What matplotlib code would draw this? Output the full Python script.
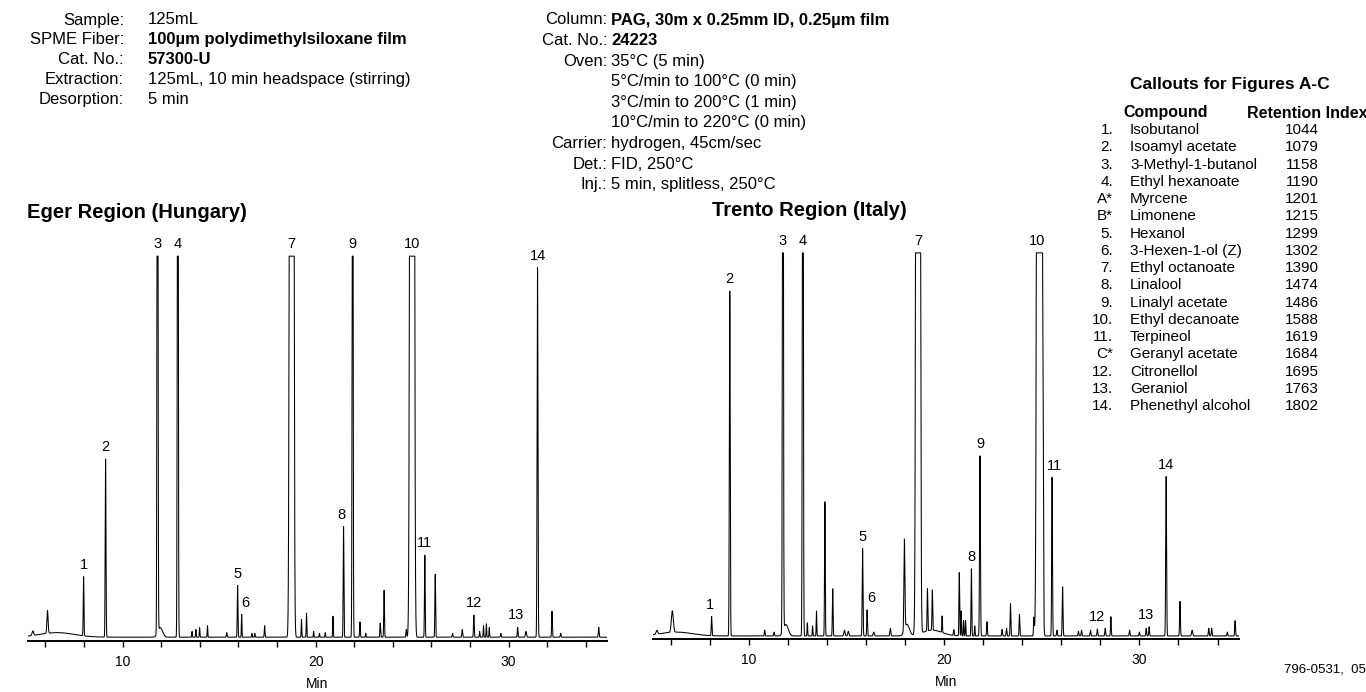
import numpy as np
import matplotlib.pyplot as plt

plt.rcParams['font.family'] = ['Liberation Sans', 'DejaVu Sans']

# Eger Region (Hungary): retention time (min), height (% full scale), peak width (min)
# heights above 100 are off-scale peaks (drawn clipped)
eger_rt = [5.35, 6.11, 7.98, 9.12, 11.81, 11.95, 12.86, 13.6, 13.8, 13.99, 14.4, 15.4,
           15.96, 16.17, 16.7, 16.85, 17.36, 18.76, 19.27, 19.53, 19.9, 20.2, 20.5,
           20.9, 21.45, 21.92, 22.3, 22.6, 23.35, 23.55, 24.7, 25.0, 25.66, 26.2,
           27.1, 27.6, 28.2, 28.5, 28.7, 28.85, 29.0, 29.6, 30.47, 30.9, 31.5, 32.25,
           32.7, 34.67, 6.6]
eger_height = [1.2, 6, 15.5, 46.7, 250, 2.5, 250, 1.5, 2, 2.5, 3, 1.2,
               13.6, 6, 1, 1, 3, 2000, 4.7, 6.3, 1.5, 1, 1.2,
               5.5, 29, 200, 4, 1, 3.7, 12.3, 2, 2000, 21.5, 16.5,
               1, 2, 5.8, 1.5, 3, 3.5, 2.5, 1, 2.6, 1.5, 97, 6.8,
               1, 2.6, 1.2]
eger_width = [0.04, 0.03, 0.018, 0.02, 0.022, 0.12, 0.022, 0.015, 0.015, 0.015, 0.015, 0.02,
              0.018, 0.015, 0.015, 0.015, 0.018, 0.055, 0.015, 0.015, 0.015, 0.015, 0.015,
              0.015, 0.018, 0.022, 0.018, 0.015, 0.018, 0.018, 0.02, 0.058, 0.018, 0.018,
              0.02, 0.02, 0.018, 0.015, 0.015, 0.015, 0.015, 0.02, 0.018, 0.03, 0.022, 0.018,
              0.02, 0.02, 0.9]
eger_label_rt = [7.98, 9.12, 11.81, 12.86, 15.96, 16.17, 18.76, 21.45, 21.92, 25.0,
                 25.66, 28.2, 30.47, 31.5]

# Trento Region (Italy)
trento_rt = [5.3, 6.09, 8.1, 9.03, 10.82, 11.3, 11.75, 11.9, 12.77, 13.0, 13.27, 13.47,
             13.9, 14.3, 14.9, 15.1, 15.83, 16.06, 16.4, 17.25, 17.97, 18.1, 18.67,
             19.15, 19.4, 19.9, 20.5, 20.78, 20.88, 21.0, 21.1, 21.4, 21.57, 21.84,
             22.2, 22.97, 23.2, 23.4, 23.86, 24.6, 24.88, 25.07, 25.53, 25.78, 26.07,
             26.88, 27.04, 27.5, 27.85, 28.25, 28.54, 29.5, 30.0, 30.35, 30.5, 31.37,
             32.08, 32.7, 33.55, 33.7, 34.5, 34.9, 6.3, 19.4]
trento_height = [1, 5.6, 5, 90, 1.5, 1, 250, 3, 250, 3.4, 2.6, 6.5,
                 35, 12.3, 1.5, 1.2, 22.8, 6.8, 1, 2, 23.6, 3, 2000,
                 11, 10.5, 4.3, 1.5, 16.5, 6.5, 4, 4, 17.5, 2.6, 47,
                 3.7, 1.7, 2, 8.4, 5.6, 4.7, 2000, 42.5, 41.4, 1.5, 12.8,
                 1.2, 1.5, 1.5, 1.8, 2, 5, 1.5, 1, 2, 2.4, 41.6,
                 9, 1.5, 2, 2, 1, 4, 1.0, 1.5]
trento_width = [0.04, 0.05, 0.018, 0.022, 0.02, 0.02, 0.022, 0.12, 0.022, 0.015, 0.015, 0.015,
                0.018, 0.018, 0.03, 0.03, 0.02, 0.018, 0.03, 0.025, 0.025, 0.12, 0.055,
                0.018, 0.018, 0.015, 0.02, 0.018, 0.015, 0.015, 0.015, 0.018, 0.015, 0.022,
                0.02, 0.02, 0.02, 0.018, 0.018, 0.02, 0.065, 0.02, 0.02, 0.02, 0.02,
                0.02, 0.02, 0.02, 0.02, 0.02, 0.018, 0.02, 0.02, 0.02, 0.02, 0.022,
                0.02, 0.03, 0.02, 0.02, 0.02, 0.02, 0.8, 0.5]
trento_label_rt = [8.1, 9.03, 11.75, 12.77, 15.83, 16.06, 18.67, 21.4, 21.84, 24.88,
                   25.53, 27.85, 30.5, 31.37]

peak_labels = [str(i) for i in range(1, 15)]

callout_num = ['1.', '2.', '3.', '4.', 'A*', 'B*', '5.', '6.', '7.', '8.', '9.', '10.',
               '11.', 'C*', '12.', '13.', '14.']
callout_name = ['Isobutanol', 'Isoamyl acetate', '3-Methyl-1-butanol', 'Ethyl hexanoate',
                'Myrcene', 'Limonene', 'Hexanol', '3-Hexen-1-ol (Z)', 'Ethyl octanoate',
                'Linalool', 'Linalyl acetate', 'Ethyl decanoate', 'Terpineol',
                'Geranyl acetate', 'Citronellol', 'Geraniol', 'Phenethyl alcohol']
callout_ri = [1044, 1079, 1158, 1190, 1201, 1215, 1299, 1302, 1390, 1474, 1486, 1588,
              1619, 1684, 1695, 1763, 1802]

left_keys = ['Sample:', 'SPME Fiber:', 'Cat. No.:', 'Extraction:', 'Desorption:']
left_vals = ['125mL', '100µm polydimethylsiloxane film', '57300-U',
             '125mL, 10 min headspace (stirring)', '5 min']
left_bold = [False, True, True, False, False]

mid_keys = ['Column:', 'Cat. No.:', 'Oven:', '', '', '', 'Carrier:', 'Det.:', 'Inj.:']
mid_vals = ['PAG, 30m x 0.25mm ID, 0.25µm film', '24223', '35°C (5 min)',
            '5°C/min to 100°C (0 min)', '3°C/min to 200°C (1 min)',
            '10°C/min to 220°C (0 min)', 'hydrogen, 45cm/sec', 'FID, 250°C',
            '5 min, splitless, 250°C']
mid_bold = [True, True, False, False, False, False, False, False, False]

W, H = 1366, 692
fig = plt.figure(figsize=(W / 100, H / 100), dpi=100)


def fx(x):
    return x / W


def fy(y):
    return 1 - y / H


t = np.arange(5.1, 35.1, 0.002)


def build(rt, h, w):
    y = np.zeros_like(t)
    for c, a, s in zip(rt, h, w):
        y += a * np.exp(-0.5 * ((t - c) / s) ** 2)
    return np.minimum(y, 100)


def draw(ax, rt, h, w, label_rt, dx):
    y = build(rt, h, w)
    ax.plot(t, y, color='black', lw=0.75)
    for lab, r in zip(peak_labels, label_rt):
        win = np.abs(t - r) < 0.03
        top = y[win].max()
        ax.annotate(lab, (r, top), xytext=(dx.get(lab, 0), 8.5), textcoords='offset points',
                    ha='center', va='center', fontsize=10.5)
    for s in ['left', 'right', 'top']:
        ax.spines[s].set_visible(False)
    ax.spines['bottom'].set_linewidth(1.4)
    ax.set_xlim(5.1, 35.1)
    ticks = list(range(6, 35, 2))
    ax.set_xticks(ticks)
    ax.set_xticklabels([str(v) if v % 10 == 0 else '' for v in ticks])
    ax.tick_params(axis='x', direction='out', length=4, width=1, labelsize=10, pad=6)
    ax.set_yticks([])
    ax.set_xlabel('Min', fontsize=10, labelpad=6)
    ax.patch.set_visible(False)


ax1 = fig.add_axes([fx(28), 0.0737, 579 / W, 0.6387])
ax1.set_ylim(-1, 115)
draw(ax1, eger_rt, eger_height, eger_width, eger_label_rt, {'6': 2.5, '8': -1.5, '13': -1.5})

ax2 = fig.add_axes([fx(653), 0.0766, 586 / W, 0.641])
ax2.set_ylim(-0.8, 115)
draw(ax2, trento_rt, trento_height, trento_width, trento_label_rt,
     {'6': 3, '13': -2, '10': -2, '1': -1, '11': 1.5})

# titles of the two chromatograms
fig.text(fx(27), fy(212), 'Eger Region (Hungary)', fontsize=14.5, fontweight='bold',
         va='center', ha='left')
fig.text(fx(712), fy(210), 'Trento Region (Italy)', fontsize=14.5, fontweight='bold',
         va='center', ha='left')

# conditions, left block
for i, (k, v, b) in enumerate(zip(left_keys, left_vals, left_bold)):
    yy = 20 + i * 19.8
    fig.text(fx(124), fy(yy), k, ha='right', va='center', fontsize=12)
    fig.text(fx(148), fy(yy), v, ha='left', va='center', fontsize=12,
             fontweight='bold' if b else 'normal')

# conditions, middle block
for i, (k, v, b) in enumerate(zip(mid_keys, mid_vals, mid_bold)):
    yy = 20 + i * 20.6
    if k:
        fig.text(fx(607), fy(yy), k, ha='right', va='center', fontsize=12)
    fig.text(fx(611), fy(yy), v, ha='left', va='center', fontsize=12,
             fontweight='bold' if b else 'normal')

# callout table
fig.text(fx(1230), fy(85), 'Callouts for Figures A-C', ha='center', va='center',
         fontsize=12.5, fontweight='bold')
fig.text(fx(1123), fy(113), 'Compound', ha='left', va='center', fontsize=11.5,
         fontweight='bold')
fig.text(fx(1247), fy(113), 'Retention Index', ha='left', va='center', fontsize=11.5,
         fontweight='bold')
for i, (n, c, r) in enumerate(zip(callout_num, callout_name, callout_ri)):
    yy = 130 + i * 17.26
    fig.text(fx(1113), fy(yy), n, ha='right', va='center', fontsize=11)
    fig.text(fx(1130), fy(yy), c, ha='left', va='center', fontsize=11)
    fig.text(fx(1302), fy(yy), str(r), ha='center', va='center', fontsize=11)

fig.text(fx(1284), fy(670), '796-0531,  05', ha='left', va='center', fontsize=9.5)

fig.savefig('out.png', dpi=100)
